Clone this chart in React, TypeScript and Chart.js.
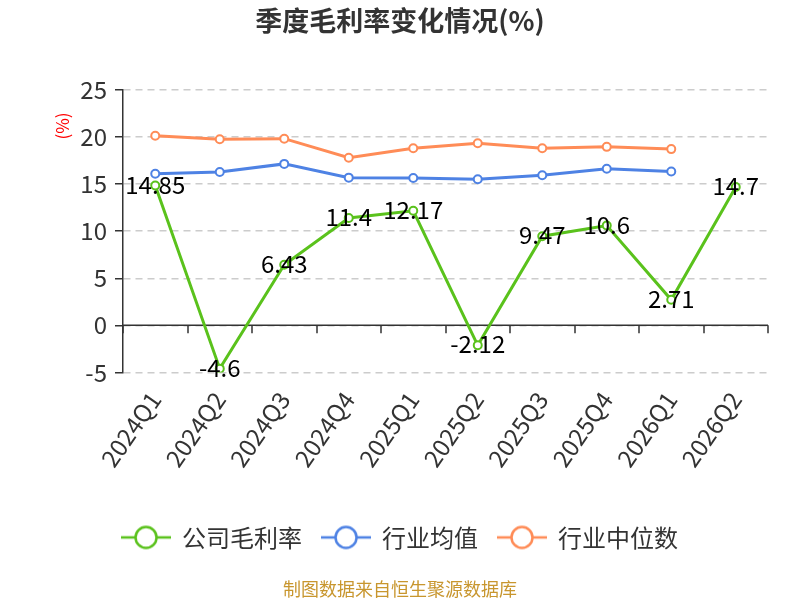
import React, { useEffect, useRef } from 'react';
import { Chart, registerables } from 'chart.js';

Chart.register(...registerables);

const quarters = ['2024Q1', '2024Q2', '2024Q3', '2024Q4', '2025Q1', '2025Q2', '2025Q3', '2025Q4', '2026Q1', '2026Q2'];
const companyMargin = [14.85, -4.6, 6.43, 11.4, 12.17, -2.12, 9.47, 10.6, 2.71, 14.7];
const industryAvg = [16.11, 16.28, 17.15, 15.69, 15.66, 15.52, 15.94, 16.63, 16.35, null];
const industryMedian = [20.14, 19.76, 19.83, 17.81, 18.82, 19.34, 18.82, 18.96, 18.72, null];

const FONT = '"Noto Sans CJK SC", "Microsoft YaHei", sans-serif';
const GREEN = '#5ac21c';
const BLUE = '#4e82e4';
const ORANGE = '#ff8c57';

// petit symbole de légende : trait + cercle
function legendIcon(color: string) {
  const c = document.createElement('canvas');
  c.width = 50;
  c.height = 26;
  const ctx = c.getContext('2d');
  if (ctx) {
    ctx.strokeStyle = color;
    ctx.lineWidth = 2.5;
    ctx.beginPath();
    ctx.moveTo(0, 13);
    ctx.lineTo(50, 13);
    ctx.stroke();
    ctx.beginPath();
    ctx.arc(25, 13, 10.5, 0, Math.PI * 2);
    ctx.fillStyle = '#fff';
    ctx.fill();
    ctx.stroke();
  }
  return c;
}

// axe du zéro + graduations, titre de l'axe Y, étiquettes de valeurs
const decorPlugin = {
  id: 'decor',
  beforeDatasetsDraw(chart: any) {
    const { ctx, chartArea, scales } = chart;
    const x = scales.x;
    const y0 = scales.y.getPixelForValue(0);
    ctx.save();
    ctx.strokeStyle = '#333';
    ctx.lineWidth = 1.5;
    ctx.beginPath();
    ctx.moveTo(chartArea.left, y0);
    ctx.lineTo(chartArea.right, y0);
    for (let i = 0; i <= quarters.length; i++) {
      const px = Math.round(x.getPixelForValue(i - 0.5));
      ctx.moveTo(px, y0);
      ctx.lineTo(px, y0 + 8);
    }
    ctx.stroke();
    ctx.restore();
  },
  afterDatasetsDraw(chart: any) {
    const { ctx, chartArea } = chart;
    ctx.save();
    // "(%)"
    ctx.translate(chartArea.left - 60, chartArea.top + 36);
    ctx.rotate(-Math.PI / 2);
    ctx.fillStyle = '#ff0000';
    ctx.font = `17px ${FONT}`;
    ctx.textAlign = 'center';
    ctx.textBaseline = 'middle';
    ctx.fillText('(%)', 0, 0);
    ctx.restore();

    const meta = chart.getDatasetMeta(0);
    ctx.save();
    ctx.fillStyle = '#000';
    ctx.font = `24px ${FONT}`;
    ctx.textAlign = 'center';
    ctx.textBaseline = 'middle';
    meta.data.forEach((pt: any, i: number) => {
      ctx.fillText(String(companyMargin[i]), pt.x, pt.y - 1);
    });
    ctx.restore();
  },
};

export default function App() {
  const canvasRef = useRef<HTMLCanvasElement>(null);
  const chartRef = useRef<Chart | null>(null);

  useEffect(() => {
    document.body.style.margin = '0';
    if (!canvasRef.current) return;
    if (chartRef.current) chartRef.current.destroy();

    const icons = [legendIcon(GREEN), legendIcon(BLUE), legendIcon(ORANGE)];

    const lineStyle = (color: string) => ({
      borderColor: color,
      borderWidth: 3,
      pointRadius: 4,
      pointBorderWidth: 2,
      pointBackgroundColor: '#fff',
      pointBorderColor: color,
    });

    chartRef.current = new Chart(canvasRef.current, {
      type: 'line',
      data: {
        labels: quarters,
        datasets: [
          { label: '公司毛利率', data: companyMargin, ...lineStyle(GREEN) },
          { label: '行业均值', data: industryAvg, ...lineStyle(BLUE) },
          { label: '行业中位数', data: industryMedian, ...lineStyle(ORANGE) },
        ],
      },
      options: {
        responsive: true,
        maintainAspectRatio: false,
        animation: false,
        layout: { padding: 0 },
        plugins: {
          tooltip: { enabled: false },
          title: {
            display: true,
            text: '季度毛利率变化情况(%)',
            color: '#333',
            font: { family: FONT, size: 27, weight: 'bold' },
            padding: { top: 5, bottom: 52.6 },
          },
          subtitle: {
            display: true,
            position: 'bottom',
            text: '制图数据来自恒生聚源数据库',
            color: '#c8962e',
            font: { family: FONT, size: 18 },
            padding: { top: 19, bottom: 0 },
          },
          legend: {
            position: 'bottom',
            labels: {
              usePointStyle: true,
              pointStyleWidth: 48,
              padding: 20,
              color: '#333',
              font: { family: FONT, size: 24 },
              generateLabels: (chart: any) =>
                chart.data.datasets.map((ds: any, i: number) => ({
                  text: ds.label,
                  pointStyle: icons[i],
                  fillStyle: '#fff',
                  strokeStyle: ds.borderColor,
                  lineWidth: 0,
                  fontColor: '#333',
                  hidden: false,
                  datasetIndex: i,
                })),
            },
          },
        },
        scales: {
          x: {
            offset: true,
            grid: { display: false, drawTicks: false },
            border: { display: false },
            ticks: {
              color: '#333',
              font: { family: FONT, size: 24 },
              minRotation: 55,
              maxRotation: 55,
              padding: 14,
              autoSkip: false,
            },
            afterFit: (scale: any) => {
              scale.height = 133;
            },
          },
          y: {
            min: -5,
            max: 25,
            ticks: {
              stepSize: 5,
              color: '#333',
              font: { family: FONT, size: 24 },
              padding: 8,
            },
            grid: {
              color: '#cccccc',
              lineWidth: 1.5,
              tickColor: '#333',
              tickLength: 8,
              tickWidth: 1.5,
              tickBorderDash: [],
            },
            border: { display: true, color: '#333', width: 1.5, dash: [7, 5] },
            afterFit: (scale: any) => {
              scale.width = 123;
            },
          },
          // marge droite seulement, pour que le titre et la légende restent centrés
          spacer: {
            type: 'linear',
            position: 'right',
            display: true,
            grid: { display: false, drawOnChartArea: false },
            border: { display: false },
            ticks: { display: false },
            afterFit: (scale: any) => {
              scale.width = 32;
            },
          },
        },
      },
      plugins: [decorPlugin],
    } as any);

    return () => {
      if (chartRef.current) {
        chartRef.current.destroy();
        chartRef.current = null;
      }
    };
  }, []);

  return (
    <div style={{ width: 800, height: 600, position: 'relative', background: '#fff' }}>
      <canvas ref={canvasRef} />
    </div>
  );
}
